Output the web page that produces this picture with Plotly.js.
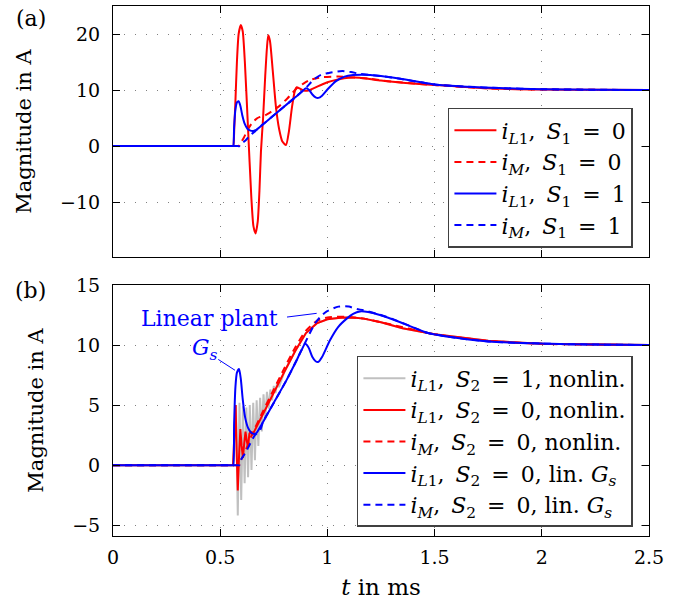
<!DOCTYPE html>
<html>
<head>
<meta charset="utf-8">
<script src="https://cdn.plot.ly/plotly-3.0.1.min.js"></script>
<style>html,body{margin:0;padding:0;background:#fff;}</style>
</head>
<body>
<div id="chart" style="width:683px;height:606px;"></div>
<script>
// ---------- Panel (a) ----------
const tA_iL1_S0 = [0, 0.3, 0.5, 0.55, 0.558, 0.561, 0.566, 0.571, 0.578, 0.586, 0.596, 0.605, 0.615, 0.630, 0.645, 0.655, 0.665, 0.675, 0.683, 0.690, 0.700, 0.710, 0.718, 0.724, 0.732, 0.745, 0.760, 0.775, 0.790, 0.807, 0.820, 0.835, 0.848, 0.857, 0.870, 0.890, 0.910, 0.940, 0.970, 1.000, 1.050, 1.100, 1.150, 1.250, 1.350, 1.500, 1.750, 2.000, 2.250, 2.500];
const vA_iL1_S0 = [0, 0, 0, 0, 0, 0, 3.5, 8, 15, 20, 21.6, 20.5, 15, 3, -9, -14.3, -15.6, -13.5, -8, -1, 5, 12.5, 17.5, 19.8, 18.8, 13.5, 7, 3, 0.8, 0.2, 2.5, 7, 9.8, 10.5, 10.3, 9.9, 9.9, 10.4, 10.9, 11.4, 11.9, 12.2, 12.2, 11.7, 11.3, 10.9, 10.3, 10.1, 10.03, 10.0];

const tA_iM_S0 = [0, 0.3, 0.5, 0.58, 0.587, 0.59, 0.61, 0.63, 0.65, 0.67, 0.686, 0.71, 0.74, 0.771, 0.813, 0.857, 0.89, 0.919, 0.95, 0.981, 1.05, 1.1, 1.2, 1.3, 1.5, 1.75, 2.0, 2.25, 2.5];
const vA_iM_S0 = [0, 0, 0, 0, 0, 0.2, 1.5, 3.0, 4.2, 4.9, 5.2, 5.5, 6.2, 7.0, 8.5, 10.3, 11.2, 11.8, 12.1, 12.3, 12.4, 12.3, 12.0, 11.5, 10.9, 10.3, 10.1, 10.03, 10.0];

const tA_iL1_S1 = [0, 0.3, 0.5, 0.55, 0.558, 0.561, 0.565, 0.571, 0.578, 0.586, 0.594, 0.603, 0.614, 0.627, 0.641, 0.655, 0.67, 0.70, 0.75, 0.80, 0.85, 0.88, 0.90, 0.915, 0.93, 0.945, 0.958, 0.975, 1.0, 1.04, 1.08, 1.12, 1.16, 1.2, 1.25, 1.34, 1.5, 1.65, 1.8, 2.0, 2.25, 2.5];
const vA_iL1_S1 = [0, 0, 0, 0, 0, 0, 3.5, 6.5, 7.8, 8.0, 7.2, 5.5, 4.0, 3.1, 2.75, 2.7, 2.95, 3.9, 5.5, 7.1, 8.7, 9.7, 10.3, 10.0, 9.2, 8.7, 8.6, 9.0, 10.1, 11.6, 12.4, 12.7, 12.75, 12.7, 12.5, 12.0, 11.0, 10.6, 10.35, 10.15, 10.05, 10.0];

const tA_iM_S1 = [0, 0.3, 0.5, 0.58, 0.589, 0.592, 0.615, 0.63, 0.645, 0.662, 0.68, 0.70, 0.75, 0.80, 0.85, 0.88, 0.905, 0.934, 0.97, 1.012, 1.07, 1.11, 1.152, 1.2, 1.25, 1.34, 1.5, 1.65, 1.8, 2.0, 2.25, 2.5];
const vA_iM_S1 = [0, 0, 0, 0, 0, 0.3, 0.9, 1.5, 2.1, 2.6, 3.3, 3.9, 5.5, 7.1, 8.7, 9.7, 10.6, 11.8, 12.7, 13.1, 13.4, 13.2, 12.9, 12.7, 12.5, 12.0, 11.0, 10.6, 10.35, 10.15, 10.05, 10.0];

// ---------- Panel (b) ----------
const tB_iL1_S2on = [0, 0.56, 0.566, 0.574, 0.582, 0.590, 0.598, 0.606, 0.614, 0.622, 0.630, 0.638, 0.646, 0.654, 0.662, 0.670, 0.678, 0.686, 0.694, 0.702, 0.710, 0.718, 0.726, 0.734, 0.742, 0.750, 0.758, 0.766, 0.774, 0.79, 0.80, 0.85, 0.90, 0.95, 1.0, 1.05, 1.09, 1.13, 1.17, 1.25, 1.35, 1.5, 1.75, 2.0, 2.25, 2.5];
const vB_iL1_S2on = [0, 0, 1.5, 5.0, -4.2, 5.2, -2.9, 4.9, -1.5, 4.8, -1.0, 5.0, -0.4, 5.2, 0.4, 5.4, 1.6, 5.6, 2.8, 5.9, 3.8, 6.1, 4.7, 6.3, 5.4, 6.6, 6.0, 6.9, 6.5, 7.2, 7.8, 9.5, 11.0, 11.8, 12.15, 12.25, 12.3, 12.28, 12.2, 11.9, 11.4, 10.9, 10.35, 10.1, 10.03, 10.0];

const tB_iL1_S2off = [0, 0.56, 0.566, 0.572, 0.577, 0.582, 0.588, 0.594, 0.600, 0.606, 0.612, 0.618, 0.624, 0.630, 0.636, 0.642, 0.650, 0.70, 0.75, 0.80, 0.85, 0.90, 0.95, 1.0, 1.05, 1.09, 1.13, 1.17, 1.25, 1.35, 1.5, 1.75, 2.0, 2.25, 2.5];
const vB_iL1_S2off = [0, 0, 2.5, 5.0, 1.0, -2.1, 0.8, 3.0, 1.6, 0.6, 1.8, 2.8, 2.0, 1.5, 2.6, 2.8, 2.5, 4.3, 6.0, 7.8, 9.5, 11.0, 11.8, 12.15, 12.25, 12.3, 12.28, 12.2, 11.9, 11.4, 10.9, 10.35, 10.1, 10.03, 10.0];

const tB_iM_S2off = [0, 0.3, 0.5, 0.58, 0.589, 0.592, 0.62, 0.65, 0.70, 0.75, 0.80, 0.85, 0.90, 0.95, 1.0, 1.09, 1.17, 1.25, 1.5, 1.75, 2.0, 2.25, 2.5];
const vB_iM_S2off = [0, 0, 0, 0, 0, 0.2, 1.3, 2.6, 4.5, 6.3, 8.1, 9.8, 11.2, 12.0, 12.3, 12.35, 12.2, 11.9, 10.9, 10.35, 10.1, 10.03, 10.0];

const tB_iL1_lin = [0, 0.3, 0.5, 0.55, 0.558, 0.561, 0.565, 0.571, 0.578, 0.588, 0.596, 0.605, 0.616, 0.63, 0.645, 0.66, 0.67, 0.70, 0.75, 0.81, 0.85, 0.88, 0.896, 0.912, 0.93, 0.945, 0.958, 0.975, 1.012, 1.05, 1.09, 1.12, 1.152, 1.19, 1.245, 1.34, 1.47, 1.6, 1.75, 2.0, 2.25, 2.5];
const vB_iL1_lin = [0, 0, 0, 0, 0, 0, 3.5, 6.5, 7.7, 8.0, 7.2, 5.5, 4.0, 3.1, 2.7, 2.6, 2.7, 3.6, 5.2, 7.1, 8.5, 9.6, 10.1, 9.8, 9.0, 8.65, 8.6, 9.0, 10.4, 11.5, 12.2, 12.6, 12.8, 12.75, 12.5, 11.9, 11.0, 10.6, 10.3, 10.12, 10.04, 10.0];

const tB_iM_lin = [0, 0.3, 0.5, 0.58, 0.589, 0.592, 0.62, 0.64, 0.662, 0.686, 0.70, 0.75, 0.81, 0.85, 0.88, 0.91, 0.942, 0.97, 0.997, 1.051, 1.10, 1.137, 1.168, 1.23, 1.30, 1.47, 1.6, 1.75, 2.0, 2.25, 2.5];
const vB_iM_lin = [0, 0, 0, 0, 0, 0.3, 1.1, 1.8, 2.5, 2.9, 3.6, 5.2, 7.1, 8.5, 9.6, 10.7, 11.8, 12.4, 12.8, 13.2, 13.2, 13.0, 12.9, 12.6, 12.2, 11.0, 10.6, 10.3, 10.12, 10.04, 10.0];

// ---------- axis ticks ----------
const xTicks = [0, 0.5, 1, 1.5, 2, 2.5];
const xTickText = ['0', '0.5', '1', '1.5', '2', '2.5'];
const yTicksA = [-10, 0, 10, 20];
const yTicksB = [-5, 0, 5, 10, 15];

const FONT = 'DejaVu Serif';
const RED = '#ff0000', BLUE = '#0000ff', GRAY = '#c0c0c0';
const DASH = '7px,5px';
const SP = '\u2002';

function tr(t, v, color, dash, name, xa, ya, lg, shape) {
  return {
    x: t, y: v, type: 'scatter', mode: 'lines', name: name,
    xaxis: xa, yaxis: ya, legend: lg,
    line: {color: color, width: 2, dash: dash, shape: shape || 'spline', smoothing: 0.6},
    hoverinfo: 'skip'
  };
}

const iL1 = '<i>i</i><sub><i>L</i>1</sub>';
const iM = '<i>i</i><sub><i>M</i></sub>';
const Gs = '<i>G</i><sub><i>s</i></sub>';
function lbl(cur, s, val, tail) {
  return cur + ',' + SP + '<i>S</i><sub>' + s + '</sub>' + SP + '=' + SP + val + (tail || '');
}

const data = [
  tr(tA_iL1_S0, vA_iL1_S0, RED, 'solid', lbl(iL1, 1, '0'), 'x', 'y', 'legend'),
  tr(tA_iM_S0, vA_iM_S0, RED, DASH, lbl(iM, 1, '0'), 'x', 'y', 'legend'),
  tr(tA_iL1_S1, vA_iL1_S1, BLUE, 'solid', lbl(iL1, 1, '1'), 'x', 'y', 'legend'),
  tr(tA_iM_S1, vA_iM_S1, BLUE, DASH, lbl(iM, 1, '1'), 'x', 'y', 'legend'),

  tr(tB_iL1_S2on, vB_iL1_S2on, GRAY, 'solid', lbl(iL1, 2, '1', ', nonlin.'), 'x2', 'y2', 'legend2', 'linear'),
  tr(tB_iL1_S2off, vB_iL1_S2off, RED, 'solid', lbl(iL1, 2, '0', ', nonlin.'), 'x2', 'y2', 'legend2', 'linear'),
  tr(tB_iM_S2off, vB_iM_S2off, RED, DASH, lbl(iM, 2, '0', ', nonlin.'), 'x2', 'y2', 'legend2'),
  tr(tB_iL1_lin, vB_iL1_lin, BLUE, 'solid', lbl(iL1, 2, '0', ', lin. ' + Gs), 'x2', 'y2', 'legend2'),
  tr(tB_iM_lin, vB_iM_lin, BLUE, DASH, lbl(iM, 2, '0', ', lin. ' + Gs), 'x2', 'y2', 'legend2')
];

const axisCommon = {
  showline: true, mirror: 'ticks', linecolor: '#000', linewidth: 1,
  ticks: 'inside', ticklen: 7, tickwidth: 1, tickcolor: '#000',
  showgrid: true, gridcolor: '#808080', gridwidth: 1, griddash: '1px,10px',
  zeroline: false, tickfont: {family: FONT, size: 19, color: '#000'}
};

const legendCommon = {
  bgcolor: '#ffffff', bordercolor: '#404040', borderwidth: 1.5,
  font: {family: FONT, size: 22, color: '#000'}, itemwidth: 42,
  xanchor: 'right', yanchor: 'bottom', traceorder: 'normal'
};

const layout = {
  width: 683, height: 606,
  margin: {l: 113, r: 34, t: 6, b: 70},
  paper_bgcolor: '#ffffff', plot_bgcolor: '#ffffff',
  font: {family: FONT, size: 19, color: '#000'},
  showlegend: true,
  xaxis: Object.assign({}, axisCommon, {domain: [0, 1], anchor: 'y', range: [0, 2.5], tickvals: xTicks, ticktext: xTickText, showticklabels: false}),
  yaxis: Object.assign({}, axisCommon, {domain: [0.5264, 1], anchor: 'x', range: [-19.8, 25], tickvals: yTicksA, ticklabelstandoff: 8,
    title: {text: 'Magnitude in A', font: {family: FONT, size: 21}, standoff: 22}}),
  xaxis2: Object.assign({}, axisCommon, {domain: [0, 1], anchor: 'y2', range: [0, 2.5], tickvals: xTicks, ticktext: xTickText, ticklabelstandoff: 4,
    title: {text: '<i>t</i> in ms', font: {family: FONT, size: 23}, standoff: 12}}),
  yaxis2: Object.assign({}, axisCommon, {domain: [0, 0.4736], anchor: 'x2', range: [-5.9, 15], tickvals: yTicksB, ticklabelstandoff: 8,
    title: {text: 'Magnitude in A', font: {family: FONT, size: 21}, standoff: 22}}),
  legend: Object.assign({}, legendCommon, {x: 0.97, y: 0.5434}),
  legend2: Object.assign({}, legendCommon, {x: 0.97, y: 0.017}),
  annotations: [
    {text: '(a)', xref: 'paper', yref: 'paper', x: -0.153, y: 0.977, xanchor: 'center', yanchor: 'middle', showarrow: false, font: {family: FONT, size: 22}},
    {text: '(b)', xref: 'paper', yref: 'paper', x: -0.153, y: 0.464, xanchor: 'center', yanchor: 'middle', showarrow: false, font: {family: FONT, size: 22}},
    {text: 'Linear plant', xref: 'x2', yref: 'y2', x: 0.448, y: 12.2, xanchor: 'center', yanchor: 'middle', showarrow: false, font: {family: FONT, size: 22, color: BLUE}},
    {text: Gs, xref: 'x2', yref: 'y2', x: 0.43, y: 9.6, xanchor: 'center', yanchor: 'middle', showarrow: false, font: {family: FONT, size: 22, color: BLUE}}
  ],
  shapes: [
    {type: 'line', xref: 'x2', yref: 'y2', x0: 0.8116, y0: 12.33, x1: 0.95, y1: 12.64, line: {color: BLUE, width: 1}},
    {type: 'line', xref: 'x2', yref: 'y2', x0: 0.491, y0: 8.8, x1: 0.569, y1: 7.9, line: {color: BLUE, width: 1}}
  ]
};

Plotly.newPlot('chart', data, layout, {displayModeBar: false, staticPlot: true});
</script>
</body>
</html>
